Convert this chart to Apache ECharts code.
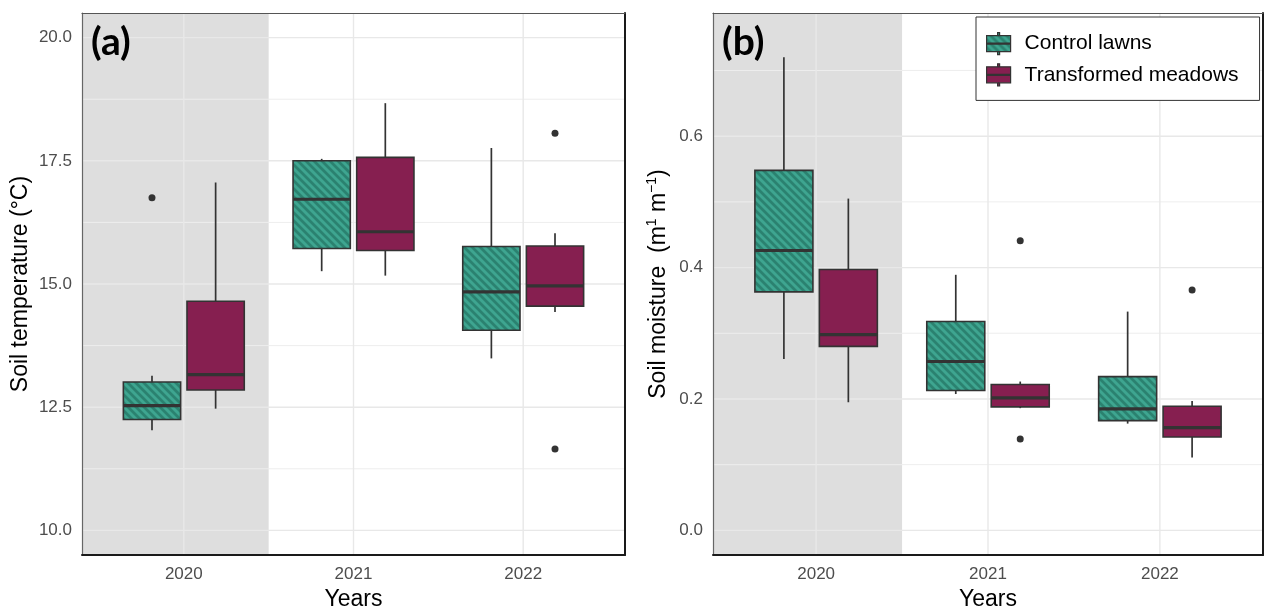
<!DOCTYPE html>
<html><head><meta charset="utf-8">
<script src="https://cdn.jsdelivr.net/npm/echarts@6/dist/echarts.min.js"></script>
<style>html,body{margin:0;padding:0;background:#fff}#c{width:1266px;height:612px}</style>
</head><body><div id="c"></div>
<script>
// ---------------- data ----------------
const years = ['2020', '2021', '2022'];
const groups = ['Control lawns', 'Transformed meadows'];
// each row: [lower whisker, Q1, median, Q3, upper whisker] for 2020, 2021, 2022
const tempControl = [[12.03, 12.25, 12.53, 13.01, 13.14], [15.26, 15.72, 16.72, 17.50, 17.54], [13.49, 14.06, 14.84, 15.76, 17.76]];
const tempTransformed = [[12.47, 12.85, 13.16, 14.65, 17.06], [15.17, 15.68, 16.06, 17.57, 18.67], [14.43, 14.55, 14.96, 15.77, 16.03]];
const tempControlOutliers = [[0, 16.75]];            // [year index, value]
const tempTransformedOutliers = [[2, 18.06], [2, 11.65]];
const moistControl = [[0.261, 0.363, 0.426, 0.548, 0.720], [0.2075, 0.213, 0.257, 0.318, 0.389], [0.1625, 0.167, 0.185, 0.234, 0.333]];
const moistTransformed = [[0.195, 0.280, 0.298, 0.397, 0.505], [0.186, 0.188, 0.2016, 0.222, 0.2265], [0.111, 0.142, 0.1565, 0.189, 0.197]];
const moistControlOutliers = [];
const moistTransformedOutliers = [[1, 0.441], [1, 0.139], [2, 0.366]];
const tempTicks = [10, 12.5, 15, 17.5, 20];
const tempMinor = [11.25, 13.75, 16.25, 18.75];
const moistTicks = [0, 0.2, 0.4, 0.6];
const moistMinor = [0.1, 0.3, 0.5, 0.7];

// ---------------- layout / style ----------------
const X_MIN = 0.4, X_MAX = 3.6;
const DODGE = 0.1875, BOXW = 0.3375;
const SHADE_END = 1.5;
const FONT = 'Liberation Sans, Arial, sans-serif';
const TEAL = '#3ea590', TEAL_DARK = '#2b8270', TEAL_MID = '#359581', MAROON = '#861f50';
const panels = [
  {grid: {left: 82, width: 543, top: 13, height: 542, outerBoundsMode: 'none', containLabel: false}, yMin: 9.5, yMax: 20.5, ticks: tempTicks, minor: tempMinor,
   name: 'Soil temperature (°C)', nameGap: 46, stats: [tempControl, tempTransformed], out: [tempControlOutliers, tempTransformedOutliers], label: '(a)'},
  {grid: {left: 713, width: 550, top: 13, height: 542, outerBoundsMode: 'none', containLabel: false}, yMin: -0.0375, yMax: 0.7875, ticks: moistTicks, minor: moistMinor,
   name: 'Soil moisture  (m{sup|1} m{sup|−1})', nameGap: 40, stats: [moistControl, moistTransformed], out: [moistControlOutliers, moistTransformedOutliers], label: '(b)'}
];

function makeHatch() {
  const n = 8;
  const c = document.createElement('canvas'); c.width = n; c.height = n;
  const ctx = c.getContext('2d');
  ctx.fillStyle = TEAL; ctx.fillRect(0, 0, n, n);
  for (let y = 0; y < n; y++) for (let x = 0; x < n; x++) {
    const d = ((x - y) % n + n) % n;
    if (d < 3) { ctx.fillStyle = TEAL_DARK; ctx.fillRect(x, y, 1, 1); }
    else if (d === 3 || d === n - 1) { ctx.fillStyle = TEAL_MID; ctx.fillRect(x, y, 1, 1); }
  }
  return c;
}
const hatch = {image: makeHatch(), repeat: 'repeat'};
const fills = [hatch, MAROON];

const series = [], xAxis = [], yAxis = [], title = [];
panels.forEach((p, g) => {
  const xi = 2 * g, yi = 2 * g;
  const axisName = {fontFamily: FONT, fontSize: 23, color: '#000'};
  xAxis.push({gridIndex: g, type: 'value', min: X_MIN, max: X_MAX, position: 'bottom', z: 5,
    axisLine: {show: true, onZero: false, lineStyle: {color: '#1a1a1a', width: 2}},
    axisTick: {show: false}, splitLine: {show: false},
    axisLabel: {customValues: [1, 2, 3], formatter: v => years[Math.round(v) - 1], color: '#4d4d4d', fontSize: 17, margin: 11, fontFamily: FONT},
    name: 'Years', nameLocation: 'middle', nameGap: 32, nameTextStyle: axisName});
  xAxis.push({gridIndex: g, type: 'value', min: X_MIN, max: X_MAX, position: 'top', z: 5,
    axisLine: {show: true, onZero: false, lineStyle: {color: '#555', width: 1.2}},
    axisTick: {show: false}, splitLine: {show: false}, axisLabel: {show: false}});
  yAxis.push({gridIndex: g, type: 'value', min: p.yMin, max: p.yMax, position: 'left', z: 5,
    axisLine: {show: true, onZero: false, lineStyle: {color: '#666', width: 1.2}},
    axisTick: {show: false}, splitLine: {show: false},
    axisLabel: {customValues: p.ticks, formatter: v => v.toFixed(1), color: '#4d4d4d', fontSize: 17, margin: 10, fontFamily: FONT},
    name: p.name, nameLocation: 'middle', nameGap: p.nameGap,
    nameTextStyle: Object.assign({}, axisName, {lineHeight: 28, rich: {sup: {fontSize: 14, lineHeight: 14, verticalAlign: 'top', fontFamily: FONT, color: '#000'}}})});
  yAxis.push({gridIndex: g, type: 'value', min: p.yMin, max: p.yMax, position: 'right', z: 5,
    axisLine: {show: true, onZero: false, lineStyle: {color: '#1a1a1a', width: 2}},
    axisTick: {show: false}, splitLine: {show: false}, axisLabel: {show: false}});

  // shaded 2020 background
  series.push({type: 'custom', xAxisIndex: xi, yAxisIndex: yi, z: 0, silent: true, data: [[X_MIN, p.yMin]],
    renderItem(params, api) {
      const a = api.coord([X_MIN, p.yMax]), b = api.coord([SHADE_END, p.yMin]);
      return {type: 'rect', shape: {x: a[0], y: a[1], width: b[0] - a[0], height: b[1] - a[1]}, style: {fill: '#dedede'}};
    }});
  // horizontal grid lines
  const hl = (vals, color, w) => ({type: 'custom', xAxisIndex: xi, yAxisIndex: yi, z: 1, silent: true,
    data: vals.map(v => [X_MIN, v]),
    renderItem(params, api) {
      const a = api.coord([X_MIN, api.value(1)]), b = api.coord([X_MAX, api.value(1)]);
      return {type: 'line', shape: {x1: a[0], y1: a[1], x2: b[0], y2: b[1]}, style: {stroke: color, lineWidth: w}};
    }});
  series.push(hl(p.minor, '#eeeeee', 1));
  series.push(hl(p.ticks, '#e8e8e8', 1.4));
  // vertical grid lines at category centres
  series.push({type: 'custom', xAxisIndex: xi, yAxisIndex: yi, z: 1, silent: true,
    data: years.map((y, i) => [i + 1, p.yMin]),
    renderItem(params, api) {
      const a = api.coord([api.value(0), p.yMax]), b = api.coord([api.value(0), p.yMin]);
      return {type: 'line', shape: {x1: a[0], y1: a[1], x2: b[0], y2: b[1]}, style: {stroke: '#e8e8e8', lineWidth: 1.4}};
    }});
  // boxes
  groups.forEach((name, gi) => {
    const off = gi === 0 ? -DODGE : DODGE;
    const fill = fills[gi];
    series.push({type: 'custom', name: name, xAxisIndex: xi, yAxisIndex: yi, z: 3,
      itemStyle: {color: fill},
      data: p.stats[gi].map((s, i) => [i, s[0], s[1], s[2], s[3], s[4]]),
      renderItem(params, api) {
        const x = api.value(0) + 1 + off;
        const lo = api.coord([x, api.value(1)]), q1 = api.coord([x, api.value(2)]), md = api.coord([x, api.value(3)]),
              q3 = api.coord([x, api.value(4)]), hi = api.coord([x, api.value(5)]);
        const w = api.size([BOXW, 0], [x, api.value(3)])[0];
        const cx = md[0];
        const st = {stroke: '#333', lineWidth: 1.7};
        return {type: 'group', children: [
          {type: 'line', shape: {x1: cx, y1: hi[1], x2: cx, y2: q3[1]}, style: st},
          {type: 'line', shape: {x1: cx, y1: q1[1], x2: cx, y2: lo[1]}, style: st},
          {type: 'rect', shape: {x: cx - w / 2, y: q3[1], width: w, height: q1[1] - q3[1]}, style: {fill: fill, stroke: '#333', lineWidth: 1.6}},
          {type: 'line', shape: {x1: cx - w / 2, y1: md[1], x2: cx + w / 2, y2: md[1]}, style: {stroke: '#333', lineWidth: 3.2}}
        ]};
      }});
    if (p.out[gi].length) {
      series.push({type: 'scatter', xAxisIndex: xi, yAxisIndex: yi, z: 4, symbolSize: 7, silent: true,
        itemStyle: {color: '#333', opacity: 1},
        data: p.out[gi].map(([i, v]) => [i + 1 + off, v])});
    }
  });
  title.push({text: p.label, left: p.grid.left + 9, top: 23, padding: 0,
    textStyle: {fontFamily: 'Lato, Open Sans, sans-serif', fontWeight: 'bold', fontSize: 39, color: '#000'}});
});

const chart = echarts.init(document.getElementById('c'), null, {renderer: 'canvas'});
chart.setOption({
  animation: false,
  backgroundColor: '#fff',
  title: title,
  grid: panels.map(p => p.grid),
  xAxis: xAxis,
  yAxis: yAxis,
  legend: {
    left: 976, top: 17, orient: 'vertical', padding: [15, 21, 14, 10],
    backgroundColor: '#fff', borderColor: '#333', borderWidth: 1, z: 10,
    itemWidth: 24, itemHeight: 22, itemGap: 8,
    icon: 'path://M11,0L13,0L13,3L11,3Z M0,3L24,3L24,10.5L0,10.5Z M0,11.5L24,11.5L24,19L0,19Z M11,19L13,19L13,22L11,22Z',
    itemStyle: {borderColor: '#333', borderWidth: 1.2},
    textStyle: {fontFamily: FONT, fontSize: 21, color: '#000', padding: [0, 0, 0, 9]},
    selectedMode: false,
    data: [{name: groups[0], itemStyle: {color: hatch}}, {name: groups[1], itemStyle: {color: MAROON}}]
  },
  series: series
});
</script>
</body></html>
